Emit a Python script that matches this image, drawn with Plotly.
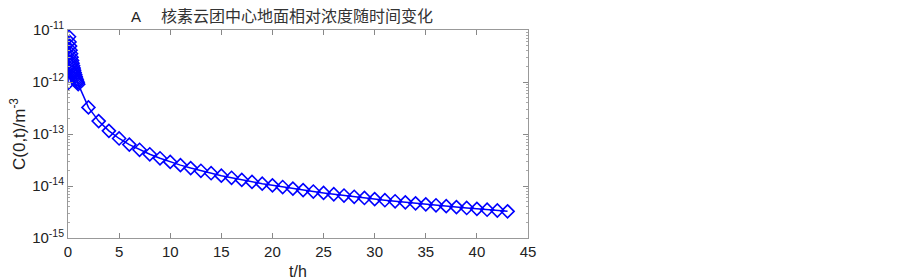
import plotly.graph_objects as go

# time (h)
t_vals = [0, 0.1, 0.15, 0.2, 0.25, 0.3, 0.35, 0.4, 0.45, 0.5, 0.55, 0.6, 0.65, 0.7,
          0.75, 0.8, 0.85, 0.9, 0.95, 1.0,
          2, 3, 4, 5, 6, 7, 8, 9, 10, 11, 12, 13, 14, 15, 16, 17, 18, 19, 20,
          21, 22, 23, 24, 25, 26, 27, 28, 29, 30, 31, 32, 33, 34, 35, 36, 37,
          38, 39, 40, 41, 42, 43]
# concentration C(0,t)
c_vals = [9.5e-13, 7.4e-12, 5.9e-12, 4.9e-12, 4.1e-12, 3.5e-12, 3.0e-12, 2.6e-12,
          2.3e-12, 2.05e-12, 1.85e-12, 1.68e-12, 1.52e-12, 1.39e-12, 1.28e-12,
          1.18e-12, 1.10e-12, 1.03e-12, 0.97e-12, 0.91e-12,
          3.25e-13, 1.77e-13, 1.15e-13, 8.2e-14, 6.26e-14, 4.97e-14, 4.07e-14,
          3.41e-14, 2.91e-14, 2.52e-14, 2.21e-14, 1.96e-14, 1.76e-14, 1.58e-14,
          1.44e-14, 1.31e-14, 1.20e-14, 1.11e-14, 1.03e-14, 9.56e-15, 8.92e-15,
          8.34e-15, 7.82e-15, 7.36e-15, 6.94e-15, 6.56e-15, 6.21e-15, 5.89e-15,
          5.60e-15, 5.33e-15, 5.08e-15, 4.85e-15, 4.64e-15, 4.44e-15, 4.26e-15,
          4.09e-15, 3.93e-15, 3.78e-15, 3.64e-15, 3.50e-15, 3.38e-15, 3.26e-15]

y_tickvals = [1e-15, 1e-14, 1e-13, 1e-12, 1e-11]
y_ticktext = ["10<sup>-15</sup>", "10<sup>-14</sup>", "10<sup>-13</sup>",
              "10<sup>-12</sup>", "10<sup>-11</sup>"]
y_minor_vals = [m * d for d in [1e-15, 1e-14, 1e-13, 1e-12] for m in range(2, 10)]
x_tickvals = [0, 5, 10, 15, 20, 25, 30, 35, 40, 45]

title_label = "A"
title_text = "核素云团中心地面相对浓度随时间变化"

fig = go.Figure()
fig.add_trace(go.Scatter(
    x=t_vals, y=c_vals, mode="lines+markers",
    line=dict(color="#0000ff", width=1.5),
    marker=dict(symbol="diamond-open", size=10, color="#0000ff",
                line=dict(color="#0000ff", width=1.6)),
    showlegend=False,
))

sans = "Liberation Sans, Arial, sans-serif"
axis_font = dict(family=sans, size=15, color="#222")

# page body has an 8px default margin, so the figure is made 8px smaller
fig.update_layout(
    width=895, height=271,
    margin=dict(l=60, r=375, t=22, b=41),
    paper_bgcolor="white", plot_bgcolor="white",
    font=axis_font,
    xaxis=dict(range=[0, 45], tickvals=x_tickvals, ticks="inside", ticklen=5,
               tickcolor="#888", linecolor="#999", linewidth=1, mirror="ticks",
               showline=True, showgrid=False, zeroline=False, automargin=False,
               tickfont=axis_font),
    yaxis=dict(type="log", range=[-15, -11], tickvals=y_tickvals, ticktext=y_ticktext,
               ticks="inside", ticklen=5, tickcolor="#888", linecolor="#999",
               linewidth=1, mirror="ticks", showline=True, showgrid=False,
               zeroline=False, tickfont=axis_font, automargin=False,
               minor=dict(tickvals=y_minor_vals, ticks="inside", ticklen=2,
                          tickcolor="#aaa", showgrid=False)),
    annotations=[
        dict(text=title_label, xref="paper", yref="paper",
             x=(129 - 68) / 460, y=1.0, xanchor="left", yanchor="bottom", yshift=3,
             showarrow=False, font=dict(family=sans, size=15, color="#222")),
        dict(text=title_text, xref="paper", yref="paper",
             x=(159 - 68) / 460, y=1.0, xanchor="left", yanchor="bottom", yshift=1,
             showarrow=False,
             font=dict(family="Noto Sans CJK SC, sans-serif", size=16, color="#333")),
        dict(text="t/h", xref="paper", yref="paper", x=0.5, y=0, yanchor="top",
             yshift=-23, showarrow=False, font=dict(family=sans, size=16, color="#222")),
        dict(text="C(0,t)/m<sup>-3</sup>", xref="paper", yref="paper", x=0, y=0.5,
             xanchor="center", yanchor="middle", xshift=-50, textangle=-90,
             showarrow=False, font=dict(family=sans, size=17, color="#222")),
    ],
)

fig.write_html("out.html")
